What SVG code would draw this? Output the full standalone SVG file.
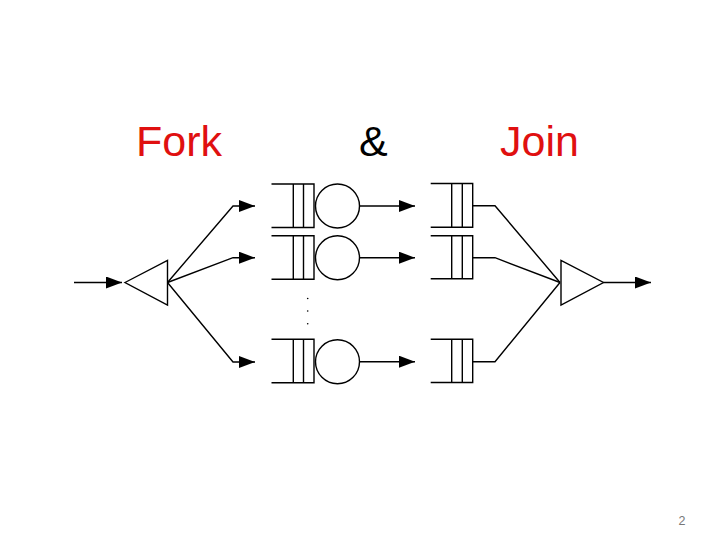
<svg xmlns="http://www.w3.org/2000/svg" width="728" height="546" viewBox="0 0 728 546">
<style>
.ln{fill:none;stroke:#000;stroke-width:1.4}
.sh{fill:#fff;stroke:#000;stroke-width:1.4}
.t{font-family:"Liberation Sans",Arial,sans-serif;font-size:43px}
</style>
<defs>
<marker id="ah" markerUnits="userSpaceOnUse" markerWidth="16" markerHeight="12" refX="16" refY="6" orient="auto">
<path d="M0,0 L16,6 L0,12 Z" fill="#000"/>
</marker>
</defs>
<rect width="728" height="546" fill="#fff"/>
<text class="t" x="136" y="156" fill="#e01010">Fork</text>
<text class="t" x="359" y="156" fill="#000">&amp;</text>
<text class="t" x="500" y="156" fill="#e01010">Join</text>
<text x="682" y="525" font-family="'Liberation Sans',Arial,sans-serif" font-size="12.5" fill="#777" text-anchor="middle">2</text>

<g id="connectors">
<path class="ln" d="M74,282.5 H122" marker-end="url(#ah)"/>
<path class="ln" d="M167.5,282.5 L233,206 H255" marker-end="url(#ah)"/>
<path class="ln" d="M167.5,282.5 L233,257.7 H255" marker-end="url(#ah)"/>
<path class="ln" d="M167.5,282.5 L233,362 H255" marker-end="url(#ah)"/>
<path class="ln" d="M359.5,206 H415" marker-end="url(#ah)"/>
<path class="ln" d="M359.5,257.7 H415" marker-end="url(#ah)"/>
<path class="ln" d="M359.5,361.7 H415" marker-end="url(#ah)"/>
<path class="ln" d="M472.7,205.7 H495 L560,282.5"/>
<path class="ln" d="M472.7,257.7 H495 L560,282.5"/>
<path class="ln" d="M472.7,361.7 H495 L560,282.5"/>
<path class="ln" d="M603.5,282.5 H651" marker-end="url(#ah)"/>
</g>

<g id="fork">
<polygon class="sh" points="125,282.5 167.5,260.5 167.5,305"/>
</g>

<g id="server1">
<path class="ln" d="M271.5,184 H314 V227.5 H271.5 M293.3,184 V227.5 M303.5,184 V227.5"/>
<circle class="sh" cx="337.5" cy="206" r="22"/>
</g>
<g id="server2">
<path class="ln" d="M271.5,235.7 H314 V279.3 H271.5 M293.3,235.7 V279.3 M303.5,235.7 V279.3"/>
<circle class="sh" cx="337.5" cy="257.7" r="22"/>
</g>
<g id="dots" fill="#000">
<circle cx="307.7" cy="298.5" r="0.8"/>
<circle cx="307.7" cy="311" r="0.8"/>
<circle cx="307.7" cy="323.7" r="0.8"/>
</g>
<g id="server3">
<path class="ln" d="M271.5,339.3 H314 V382.7 H271.5 M293.3,339.3 V382.7 M303.5,339.3 V382.7"/>
<circle class="sh" cx="337.5" cy="361.7" r="22"/>
</g>

<g id="jq1">
<path class="ln" d="M430.7,183.5 H472.7 V227.3 H430.7 M451.7,183.5 V227.3 M462.3,183.5 V227.3"/>
</g>
<g id="jq2">
<path class="ln" d="M430.7,235.7 H472.7 V278.8 H430.7 M451.7,235.7 V278.8 M462.3,235.7 V278.8"/>
</g>
<g id="jq3">
<path class="ln" d="M430.7,339.3 H472.7 V382.5 H430.7 M451.7,339.3 V382.5 M462.3,339.3 V382.5"/>
</g>

<g id="join">
<polygon class="sh" points="561,260.5 561,305 603.5,282.5"/>
</g>
</svg>
